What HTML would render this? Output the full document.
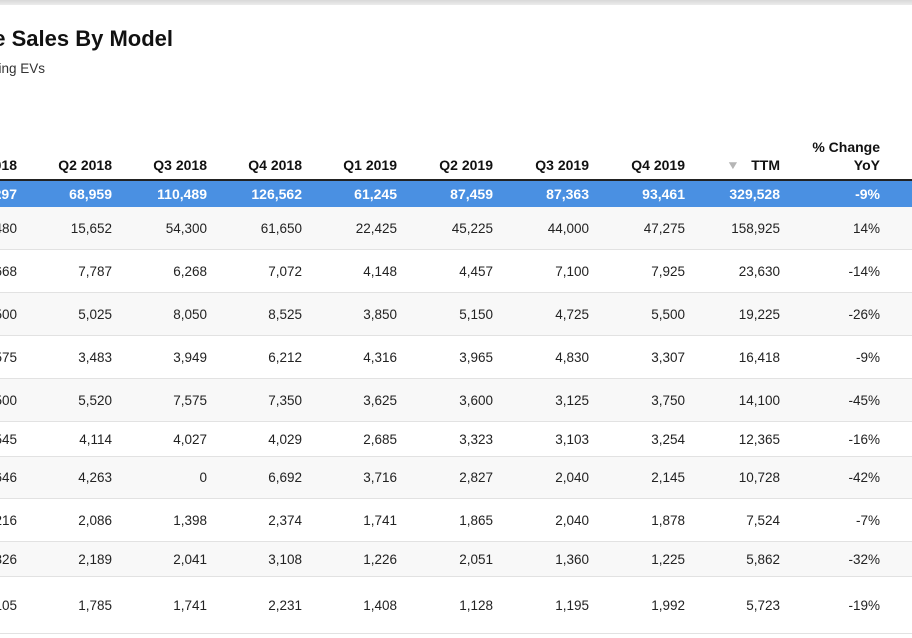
<!DOCTYPE html>
<html><head><meta charset="utf-8">
<style>
html,body{margin:0;padding:0;}
body{width:912px;height:638px;overflow:hidden;background:#fff;font-family:"Liberation Sans",Arial,sans-serif;color:#222;position:relative;}
#topbar{position:absolute;left:0;top:0;width:912px;height:5px;background:linear-gradient(#d8d8d8,#ececec);}
#title{position:absolute;right:739px;top:26px;font-size:22px;font-weight:bold;color:#111;white-space:nowrap;}
#subtitle{position:absolute;right:867px;top:61px;font-size:13.5px;color:#333;white-space:nowrap;}
.cell{position:absolute;white-space:nowrap;text-align:right;font-size:13.5px;}
.hdr{font-weight:bold;font-size:14px;color:#111;}
.row{position:absolute;left:0;width:912px;border-bottom:1px solid #e2e2e2;}
</style></head>
<body>
<div id="topbar"></div>
<div id="title">Vehicle Sales By Model</div>
<div id="subtitle">Including EVs</div>
<div id="table"></div>
<script>
const columns=["Q1 2018","Q2 2018","Q3 2018","Q4 2018","Q1 2019","Q2 2019","Q3 2019","Q4 2019","TTM","% Change YoY"];
const totalRow=["71,297","68,959","110,489","126,562","61,245","87,459","87,363","93,461","329,528","-9%"];
const dataRows=[
["18,480","15,652","54,300","61,650","22,425","45,225","44,000","47,275","158,925","14%"],
["8,668","7,787","6,268","7,072","4,148","4,457","7,100","7,925","23,630","-14%"],
["6,500","5,025","8,050","8,525","3,850","5,150","4,725","5,500","19,225","-26%"],
["3,575","3,483","3,949","6,212","4,316","3,965","4,830","3,307","16,418","-9%"],
["6,500","5,520","7,575","7,350","3,625","3,600","3,125","3,750","14,100","-45%"],
["3,545","4,114","4,027","4,029","2,685","3,323","3,103","3,254","12,365","-16%"],
["4,646","4,263","0","6,692","3,716","2,827","2,040","2,145","10,728","-42%"],
["2,216","2,086","1,398","2,374","1,741","1,865","2,040","1,878","7,524","-7%"],
["2,326","2,189","2,041","3,108","1,226","2,051","1,360","1,225","5,862","-32%"],
["2,105","1,785","1,741","2,231","1,408","1,128","1,195","1,992","5,723","-19%"]
];
const colRight=[17,112,207,302,397,493,589,685,780,880];
const rowTops=[207,250,293,336,379,422,457,499,542,577];
const rowBottoms=[250,293,336,379,422,457,499,542,577,634];
const T=document.getElementById('table');
function cell(txt,right,cy,cls,color){
  const d=document.createElement('div');
  d.className='cell '+(cls||'');
  d.textContent=txt;
  d.style.right=(912-right)+'px';
  d.style.top=(cy-9)+'px';
  d.style.lineHeight='18px';
  if(color)d.style.color=color;
  T.appendChild(d);return d;
}
columns.forEach((c,i)=>{
  let d;
  if(i===9){
    d=cell('% Change',colRight[i],147,'hdr');
    
    
    d=cell('YoY',colRight[i],165,'hdr');
    
    
  } else {
    d=cell(c,colRight[i],165,'hdr');
    
    
  }
});
const arrow=document.createElement('div');
arrow.textContent='▼';
arrow.style.cssText='position:absolute;left:726px;top:157px;font-size:14px;line-height:16px;color:#b5b5b5;transform:scaleY(0.85);';


T.appendChild(arrow);
const hl=document.createElement('div');
hl.style.cssText='position:absolute;left:0;top:179px;width:912px;height:2px;background:#222;';


T.appendChild(hl);
const tb=document.createElement('div');
tb.style.cssText='position:absolute;left:0;top:181px;width:912px;height:26px;background:#4a90e2;';


T.appendChild(tb);
totalRow.forEach((v,i)=>{
  const d=cell(v,colRight[i],194,'hdr','#fff');
  
  
});
dataRows.forEach((r,ri)=>{
  const bg=document.createElement('div');
  bg.className='row';
  bg.style.top=rowTops[ri]+'px';
  bg.style.height=(rowBottoms[ri]-rowTops[ri]-1)+'px';
  bg.style.background=(ri%2===0)?'#f8f8f8':'#fff';
  
  
  T.appendChild(bg);
  const cy=(rowTops[ri]+rowBottoms[ri])/2;
  r.forEach((v,i)=>{
    const d=cell(v,colRight[i],cy,'','#222');
    
    
  });
});
</script>
</body></html>
